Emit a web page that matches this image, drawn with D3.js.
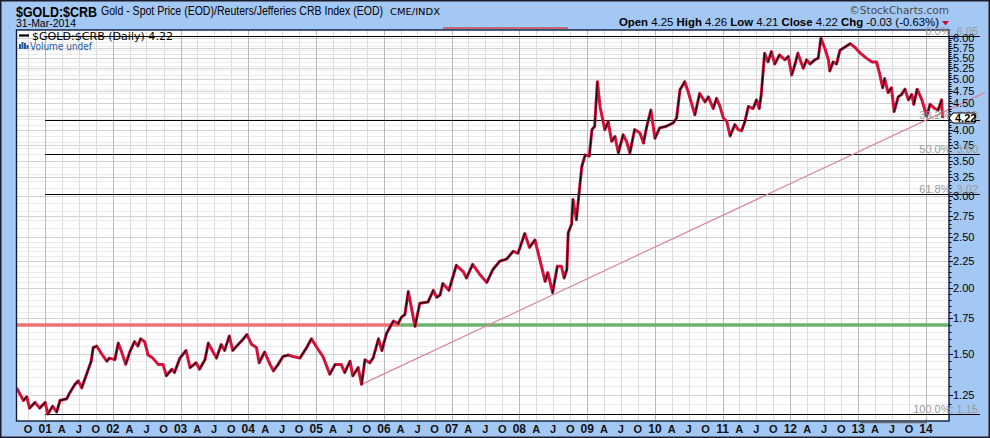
<!DOCTYPE html>
<html>
<head>
<meta charset="utf-8">
<script src="https://cdn.jsdelivr.net/npm/d3@7"></script>
<style>
  body { margin: 0; background: #a4c8f4; }
  svg { display: block; }
</style>
</head>
<body>
<div id="vis"></div>
<script>
const w = 990;
const h = 438;
const plot = { left: 16.5, right: 949, top: 30, bottom: 421 };

// decimal years
const dates = [2000.58, 2000.68, 2000.73, 2000.77, 2000.85, 2000.92, 2001.00, 2001.04, 2001.11, 2001.17,
    2001.22, 2001.32, 2001.36, 2001.44, 2001.49, 2001.54, 2001.63, 2001.68, 2001.71, 2001.76,
    2001.83, 2001.91, 2001.95, 2002.03, 2002.08, 2002.13, 2002.19, 2002.25, 2002.32, 2002.37,
    2002.41, 2002.47, 2002.52, 2002.59, 2002.67, 2002.74, 2002.79, 2002.87, 2002.91, 2002.99,
    2003.08, 2003.14, 2003.23, 2003.28, 2003.36, 2003.41, 2003.48, 2003.53, 2003.60, 2003.65,
    2003.72, 2003.77, 2003.85, 2003.91, 2003.98, 2004.05, 2004.12, 2004.16, 2004.24, 2004.32,
    2004.37, 2004.44, 2004.51, 2004.59, 2004.66, 2004.76, 2004.86, 2004.93, 2005.01, 2005.10,
    2005.20, 2005.28, 2005.37, 2005.42, 2005.50, 2005.54, 2005.62, 2005.67, 2005.72, 2005.79,
    2005.84, 2005.92, 2005.97, 2006.04, 2006.14, 2006.21, 2006.26, 2006.31, 2006.36, 2006.46,
    2006.53, 2006.65, 2006.73, 2006.78, 2006.83, 2006.87, 2006.96, 2007.07, 2007.17, 2007.22,
    2007.31, 2007.42, 2007.52, 2007.61, 2007.71, 2007.81, 2007.91, 2007.98, 2008.08, 2008.15,
    2008.23, 2008.30, 2008.38, 2008.42, 2008.49, 2008.56, 2008.62, 2008.66, 2008.70, 2008.72,
    2008.77, 2008.79, 2008.84, 2008.92, 2008.97, 2009.03, 2009.07, 2009.11, 2009.15, 2009.19,
    2009.26, 2009.31, 2009.36, 2009.41, 2009.46, 2009.53, 2009.58, 2009.63, 2009.70, 2009.78,
    2009.83, 2009.88, 2009.94, 2010.00, 2010.07, 2010.17, 2010.27, 2010.32, 2010.37, 2010.44,
    2010.49, 2010.59, 2010.66, 2010.74, 2010.79, 2010.86, 2010.91, 2010.96, 2011.01, 2011.06,
    2011.11, 2011.18, 2011.23, 2011.28, 2011.33, 2011.38, 2011.45, 2011.50, 2011.54, 2011.57,
    2011.62, 2011.67, 2011.72, 2011.77, 2011.84, 2011.92, 2011.97, 2012.02, 2012.07, 2012.11,
    2012.19, 2012.24, 2012.29, 2012.36, 2012.41, 2012.45, 2012.51, 2012.56, 2012.58, 2012.63,
    2012.68, 2012.73, 2012.80, 2012.88, 2012.95, 2013.03, 2013.12, 2013.20, 2013.27, 2013.32,
    2013.36, 2013.39, 2013.44, 2013.49, 2013.53, 2013.59, 2013.64, 2013.69, 2013.74, 2013.79,
    2013.82, 2013.87, 2013.94, 2014.01, 2014.06, 2014.13, 2014.18, 2014.23, 2014.245];

// $GOLD:$CRB ratio
const ratio = [1.29, 1.22, 1.24, 1.18, 1.21, 1.18, 1.21, 1.15, 1.19, 1.16,
    1.22, 1.23, 1.26, 1.31, 1.33, 1.29, 1.39, 1.45, 1.54, 1.55,
    1.50, 1.45, 1.47, 1.46, 1.57, 1.51, 1.43, 1.51, 1.58, 1.55,
    1.60, 1.58, 1.49, 1.47, 1.43, 1.43, 1.36, 1.40, 1.38, 1.47,
    1.52, 1.41, 1.44, 1.40, 1.46, 1.57, 1.51, 1.47, 1.56, 1.52,
    1.62, 1.52, 1.56, 1.59, 1.63, 1.56, 1.54, 1.44, 1.51, 1.43,
    1.39, 1.43, 1.48, 1.49, 1.48, 1.47, 1.54, 1.60, 1.54, 1.48,
    1.37, 1.43, 1.43, 1.38, 1.45, 1.36, 1.41, 1.31, 1.46, 1.44,
    1.47, 1.60, 1.52, 1.64, 1.73, 1.71, 1.76, 1.78, 1.97, 1.69,
    1.87, 1.88, 1.98, 1.92, 1.94, 2.04, 1.98, 2.21, 2.15, 2.09,
    2.22, 2.12, 2.05, 2.17, 2.25, 2.27, 2.35, 2.33, 2.54, 2.39,
    2.47, 2.27, 2.06, 2.14, 1.96, 2.20, 2.20, 2.09, 2.17, 2.55,
    2.65, 2.95, 2.70, 3.41, 3.59, 3.57, 4.01, 4.07, 4.95, 4.43,
    4.01, 4.15, 3.81, 3.89, 3.62, 3.92, 3.81, 3.62, 4.01, 3.95,
    3.78, 4.07, 4.37, 3.86, 4.04, 4.07, 4.13, 4.22, 4.78, 4.95,
    4.74, 4.28, 4.70, 4.53, 4.63, 4.40, 4.60, 4.44, 4.22, 4.16,
    3.90, 4.10, 4.01, 3.99, 4.16, 4.44, 4.40, 4.57, 4.40, 4.68,
    5.61, 5.40, 5.65, 5.35, 5.57, 5.45, 5.53, 5.10, 5.35, 5.61,
    5.25, 5.45, 5.35, 5.45, 5.49, 5.99, 5.72, 5.45, 5.19, 5.40,
    5.35, 5.68, 5.76, 5.85, 5.76, 5.61, 5.49, 5.40, 5.40, 5.10,
    4.82, 5.02, 4.72, 4.82, 4.34, 4.63, 4.68, 4.79, 4.57, 4.68,
    4.48, 4.79, 4.57, 4.25, 4.48, 4.40, 4.37, 4.57, 4.22];

const yTicks = [1.25, 1.50, 1.75, 2.00, 2.25, 2.50, 2.75, 3.00, 3.25, 3.50, 3.75, 4.00,
    4.25, 4.50, 4.75, 5.00, 5.25, 5.50, 5.75, 6.00];
const quarterLabels = ["", "A", "J", "O"];   // Jan shows the year instead

const fibPct = [0, 38.2, 50, 61.8, 100];
const fibHigh = 6.05;
const fibLow = 1.15;
const fibStart = 2001.0;

const breakoutLevel = 1.70;
const breakoutDate = 2006.24;
const trendAnchors = [[2005.67, 1.31], [2008.49, 1.94]];
const trendEnd = 2014.87;

const lastClose = 4.22;
const ohlc = [["Open", "4.25"], ["High", "4.26"], ["Low", "4.21"], ["Close", "4.22"], ["Chg", "-0.03 (-0.63%)"]];

function yearToDate(v) {
    const y0 = Math.floor(v);
    const a = new Date(y0, 0, 1), b = new Date(y0 + 1, 0, 1);
    return new Date(+a + (v - y0) * (b - a));
}

const data = dates.map((d, i) => ({ date: yearToDate(d), value: ratio[i] }));
const lastDate = data[data.length - 1].date;

const x = d3.scaleTime()
    .domain([yearToDate(2000.578), yearToDate(2014.34)])
    .range([plot.left, plot.right]);

const y = d3.scaleLog()
    .domain([fibLow, fibHigh])
    .range([414, 36]);

const sans = "'Liberation Sans', Arial, sans-serif";
const dejavu = "'DejaVu Sans', Verdana, sans-serif";

const svg = d3.select('#vis')
    .append('svg')
    .attr('width', w)
    .attr('height', h);

// background + frame
svg.append('rect')
    .attr('x', 0.75).attr('y', 0.75)
    .attr('width', w - 1.5).attr('height', h - 1.5)
    .attr('fill', '#a4c8f4')
    .attr('stroke', '#1c1c2c')
    .attr('stroke-width', 1.5);

svg.append('rect')
    .attr('x', plot.left).attr('y', plot.top)
    .attr('width', plot.right - plot.left).attr('height', plot.bottom - plot.top)
    .attr('fill', '#fff');

svg.append('clipPath').attr('id', 'clip')
    .append('rect')
    .attr('x', plot.left).attr('y', plot.top)
    .attr('width', plot.right - plot.left).attr('height', plot.bottom - plot.top);

// grid
const quarters = d3.timeMonth.every(3).range(x.domain()[0], lastDate);

const minorY = d3.range(1.20, 2.5001, 0.05).concat(d3.range(2.6, 6.051, 0.1))
    .map(v => Math.round(v * 100) / 100)
    .filter(v => !yTicks.includes(v));

const grid = svg.append('g');
grid.selectAll('.hminor')
    .data(minorY)
    .join('line')
    .attr('x1', plot.left).attr('x2', plot.right)
    .attr('y1', d => Math.round(y(d)) + 0.5).attr('y2', d => Math.round(y(d)) + 0.5)
    .attr('stroke', '#ececec');

grid.selectAll('.hmajor')
    .data(yTicks)
    .join('line')
    .attr('x1', plot.left).attr('x2', plot.right)
    .attr('y1', d => Math.round(y(d)) + 0.5).attr('y2', d => Math.round(y(d)) + 0.5)
    .attr('stroke', '#d2d2d2');

grid.selectAll('.v')
    .data(quarters)
    .join('line')
    .attr('x1', d => Math.round(x(d)) + 0.5).attr('x2', d => Math.round(x(d)) + 0.5)
    .attr('y1', plot.top).attr('y2', plot.bottom)
    .attr('stroke', d => d.getMonth() === 0 ? '#b9b9b9' : '#dcdcdc');

// breakout level: red before, green after
svg.append('line')
    .attr('x1', plot.left).attr('x2', x(yearToDate(breakoutDate)))
    .attr('y1', y(breakoutLevel)).attr('y2', y(breakoutLevel))
    .attr('stroke', '#ef7272').attr('stroke-width', 3.5);
svg.append('line')
    .attr('x1', x(yearToDate(breakoutDate))).attr('x2', plot.right)
    .attr('y1', y(breakoutLevel)).attr('y2', y(breakoutLevel))
    .attr('stroke', '#6db26b').attr('stroke-width', 3.5);

// fibonacci retracement lines
const fibs = fibPct.map(p => ({ pct: p, value: fibHigh - p / 100 * (fibHigh - fibLow) }));

svg.selectAll('.fib')
    .data(fibs)
    .join('line')
    .attr('x1', x(yearToDate(fibStart))).attr('x2', 980)
    .attr('y1', d => Math.round(y(d.value)) + 0.5).attr('y2', d => Math.round(y(d.value)) + 0.5)
    .attr('stroke', '#000').attr('stroke-width', 1.2);

// trendline through the 2005 and 2008 lows
const t0 = [x(yearToDate(trendAnchors[0][0])), y(trendAnchors[0][1])];
const t1 = [x(yearToDate(trendAnchors[1][0])), y(trendAnchors[1][1])];
const tx = x(yearToDate(trendEnd));
const ty = t0[1] + (t1[1] - t0[1]) * (tx - t0[0]) / (t1[0] - t0[0]);
svg.append('line')
    .attr('x1', t0[0]).attr('y1', t0[1])
    .attr('x2', tx).attr('y2', ty)
    .attr('stroke', '#d9859b').attr('stroke-width', 1.2);

// price line
const lineG = svg.append('g').attr('clip-path', 'url(#clip)');
const line = d3.line().x(d => x(d.date)).y(d => y(d.value));

lineG.append('path')
    .datum(data)
    .attr('d', line)
    .attr('fill', 'none')
    .attr('stroke', '#d3123c')
    .attr('stroke-width', 3)
    .attr('stroke-linejoin', 'round');

const ups = d3.pairs(data).filter(p => p[1].value > p[0].value);
lineG.selectAll('.up')
    .data(ups)
    .join('line')
    .attr('x1', d => x(d[0].date)).attr('y1', d => y(d[0].value))
    .attr('x2', d => x(d[1].date)).attr('y2', d => y(d[1].value))
    .attr('stroke', '#111')
    .attr('stroke-width', 1.4)
    .attr('stroke-linecap', 'round');

// plot border
svg.append('rect')
    .attr('x', plot.left).attr('y', plot.top)
    .attr('width', plot.right - plot.left).attr('height', plot.bottom - plot.top)
    .attr('fill', 'none')
    .attr('stroke', '#0c1a44')
    .attr('stroke-width', 1.4);

// legend
svg.append('line')
    .attr('x1', 19).attr('x2', 29).attr('y1', 35.5).attr('y2', 35.5)
    .attr('stroke', '#000').attr('stroke-width', 2.2);
svg.append('text')
    .attr('x', 32).attr('y', 39.5)
    .attr('font-family', dejavu).attr('font-size', '11px')
    .attr('textLength', 141).attr('lengthAdjust', 'spacingAndGlyphs')
    .text('$GOLD:$CRB (Daily) 4.22');

const icon = svg.append('g').attr('fill', '#1f5a9e');
[[19, 44, 2, 5], [21.5, 42, 2, 7], [24, 43, 2, 6], [26.5, 45, 2, 4]].forEach(r => {
    icon.append('rect').attr('x', r[0]).attr('y', r[1]).attr('width', r[2]).attr('height', r[3]);
});
svg.append('text')
    .attr('x', 30).attr('y', 49.5)
    .attr('font-family', dejavu).attr('font-size', '11px')
    .attr('fill', '#1f5a9e')
    .attr('textLength', 62).attr('lengthAdjust', 'spacingAndGlyphs')
    .text('Volume undef');

// right axis
const ticksMinor = d3.range(1.15, 6.051, 0.05).map(v => Math.round(v * 100) / 100);
svg.selectAll('.rtm')
    .data(ticksMinor)
    .join('line')
    .attr('x1', plot.right).attr('x2', plot.right + 2.5)
    .attr('y1', d => Math.round(y(d)) + 0.5).attr('y2', d => Math.round(y(d)) + 0.5)
    .attr('stroke', '#000');

svg.selectAll('.rt')
    .data(yTicks)
    .join('line')
    .attr('x1', plot.right).attr('x2', plot.right + 4)
    .attr('y1', d => Math.round(y(d)) + 0.5).attr('y2', d => Math.round(y(d)) + 0.5)
    .attr('stroke', '#000');

// the last-value box hides the label next to it
const ly = y(lastClose);
svg.selectAll('.rl')
    .data(yTicks.filter(v => Math.abs(y(v) - ly) > 8))
    .join('text')
    .attr('x', 953)
    .attr('y', d => y(d) + 4)
    .attr('font-family', sans).attr('font-size', '11px')
    .attr('fill', '#000')
    .text(d => d3.format('.2f')(d));

// fib labels
svg.selectAll('.fl')
    .data(fibs)
    .join('text')
    .attr('x', 978)
    .attr('y', d => Math.round(y(d.value)) - 1.5)
    .attr('text-anchor', 'end')
    .attr('font-family', sans).attr('font-size', '11px')
    .attr('fill', '#9a9a9a')
    .text(d => d.pct.toFixed(1) + '%: ' + d.value.toFixed(2));

// last value box
svg.append('path')
    .attr('d', `M${plot.right},${ly} L${plot.right + 4},${ly - 5} L975,${ly - 5} L975,${ly + 5} L${plot.right + 4},${ly + 5} Z`)
    .attr('fill', '#fff').attr('stroke', '#000').attr('stroke-width', 1);
svg.append('text')
    .attr('x', 955).attr('y', ly + 4)
    .attr('font-family', sans).attr('font-size', '11px').attr('font-weight', 'bold')
    .text(d3.format('.2f')(lastClose));

// x axis labels
svg.selectAll('.xl')
    .data(quarters)
    .join('text')
    .attr('x', d => x(d))
    .attr('y', 433)
    .attr('text-anchor', 'middle')
    .attr('font-family', sans)
    .attr('font-size', d => d.getMonth() === 0 ? '12px' : '11px')
    .attr('font-weight', 'bold')
    .attr('fill', '#111')
    .text(d => d.getMonth() === 0 ? d3.timeFormat('%y')(d) : quarterLabels[d.getMonth() / 3]);

// small range markers
svg.append('line')
    .attr('x1', 443).attr('x2', 568).attr('y1', 28).attr('y2', 28)
    .attr('stroke', '#d04848').attr('stroke-width', 1.5);
svg.append('line')
    .attr('x1', 860).attr('x2', 927).attr('y1', 422.5).attr('y2', 422.5)
    .attr('stroke', '#6a6a6a').attr('stroke-width', 1.5);

// header
svg.append('text')
    .attr('x', 16).attr('y', 17)
    .attr('font-family', sans).attr('font-size', '15px').attr('font-weight', 'bold')
    .attr('textLength', 81).attr('lengthAdjust', 'spacingAndGlyphs')
    .text('$GOLD:$CRB');
svg.append('text')
    .attr('x', 101).attr('y', 15)
    .attr('font-family', sans).attr('font-size', '12px')
    .attr('textLength', 282).attr('lengthAdjust', 'spacingAndGlyphs')
    .text('Gold - Spot Price (EOD)/Reuters/Jefferies CRB Index (EOD)');
svg.append('text')
    .attr('x', 390).attr('y', 15)
    .attr('font-family', dejavu).attr('font-size', '9.5px')
    .attr('textLength', 50).attr('lengthAdjust', 'spacingAndGlyphs')
    .text('CME/INDX');
svg.append('text')
    .attr('x', 16).attr('y', 27)
    .attr('font-family', sans).attr('font-size', '10.5px')
    .attr('textLength', 60).attr('lengthAdjust', 'spacingAndGlyphs')
    .text('31-Mar-2014');
svg.append('text')
    .attr('x', 949).attr('y', 14)
    .attr('text-anchor', 'end')
    .attr('font-family', dejavu).attr('font-size', '10.5px')
    .attr('fill', '#4a4a4a')
    .text('\u00A9StockCharts.com');

const ohlcText = svg.append('text')
    .attr('x', 619).attr('y', 26)
    .attr('font-family', sans).attr('font-size', '11.5px')
    .attr('textLength', 320).attr('lengthAdjust', 'spacingAndGlyphs');
ohlc.forEach((p, i) => {
    ohlcText.append('tspan').attr('font-weight', 'bold').text((i ? '  ' : '') + p[0] + ' ');
    ohlcText.append('tspan').text(p[1]);
});
svg.append('path')
    .attr('d', 'M942,21 L949,21 L945.5,25.5 Z')
    .attr('fill', '#c8102e');
</script>
</body>
</html>
